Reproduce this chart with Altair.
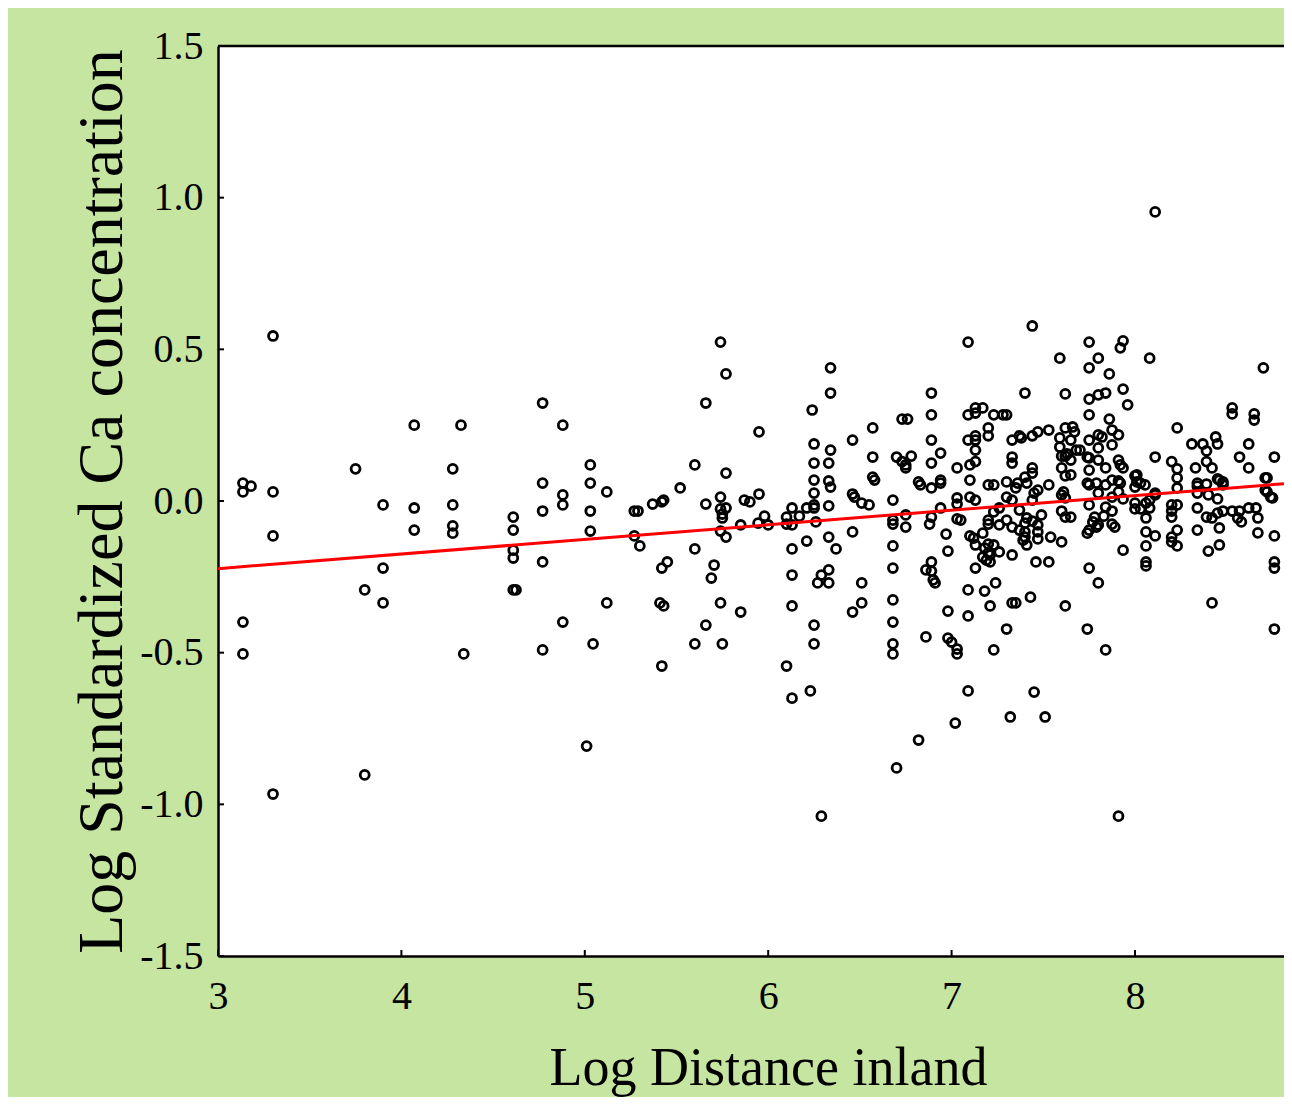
import altair as alt
import pandas as pd

# Log distance inland (one value per column of points)
dist_values = [
    3.136, 3.18, 3.30, 3.75, 3.80, 3.90, 4.07, 4.28, 4.325, 4.34,
    4.61, 4.625, 4.77, 4.88, 5.01, 5.03, 5.045, 5.12, 5.27, 5.29,
    5.30, 5.37, 5.41, 5.42, 5.43, 5.45, 5.52, 5.60, 5.66, 5.69,
    5.705, 5.74, 5.75, 5.77, 5.85, 5.87, 5.90, 5.945, 5.95, 5.98,
    6.00, 6.10, 6.13, 6.17, 6.21, 6.23, 6.24, 6.25, 6.26, 6.27,
    6.29, 6.33, 6.34, 6.37, 6.46, 6.47, 6.51, 6.55, 6.57, 6.58,
    6.68, 6.70, 6.73, 6.75, 6.76, 6.78, 6.82, 6.83, 6.86, 6.88,
    6.89, 6.90, 6.91, 6.94, 6.97, 6.98, 7.00, 7.02, 7.03, 7.05,
    7.09, 7.10, 7.12, 7.13, 7.17, 7.18, 7.19, 7.20, 7.21, 7.23,
    7.24, 7.26, 7.28, 7.30, 7.32, 7.33, 7.35, 7.36, 7.37, 7.38,
    7.39, 7.40, 7.41, 7.43, 7.44, 7.45, 7.46, 7.47, 7.49, 7.51,
    7.53, 7.54, 7.59, 7.60, 7.61, 7.62, 7.63, 7.65, 7.66, 7.67,
    7.68, 7.70, 7.74, 7.75, 7.77, 7.78, 7.79, 7.80, 7.82, 7.83,
    7.84, 7.86, 7.875, 7.89, 7.91, 7.92, 7.935, 7.96, 8.00, 8.01,
    8.03, 8.055, 8.06, 8.08, 8.11, 8.20, 8.23, 8.31, 8.33, 8.34,
    8.37, 8.39, 8.40, 8.42, 8.44, 8.45, 8.46, 8.48, 8.53, 8.56,
    8.57, 8.58, 8.62, 8.65, 8.66, 8.67, 8.70, 8.71, 8.72, 8.74,
    8.75, 8.76,
]

# Log standardized Ca concentration values in each column
ca_values = [
    [0.059, 0.030, -0.399, -0.504], [0.049], [0.544, 0.030, -0.115, -0.966], [0.106],
    [-0.293, -0.903], [-0.013, -0.221, -0.336], [0.25, -0.023, -0.096],
    [0.106, -0.013, -0.082, -0.106], [0.25], [-0.504],
    [-0.053, -0.096, -0.162, -0.188, -0.293], [-0.293], [0.323, 0.059, -0.033, -0.201, -0.491],
    [0.25, 0.020, -0.013, -0.399], [-0.808], [0.119, 0.059, -0.033, -0.099], [-0.471],
    [0.030, -0.336], [-0.033, -0.115], [-0.033],
    [-0.148], [-0.010], [-0.336], [-0.003, -0.221, -0.544], [0.003, -0.346], [-0.201],
    [0.043], [0.119, -0.158, -0.471], [0.323, -0.010, -0.409], [-0.254],
    [-0.211], [0.524, 0.013, -0.026, -0.099, -0.336], [-0.043, -0.056, -0.471],
    [0.419, 0.092, -0.023, -0.119], [-0.079, -0.366], [0.003], [-0.003], [-0.073],
    [0.228, 0.023], [-0.050],
    [-0.079], [-0.053, -0.076, -0.544], [-0.023, -0.079, -0.158, -0.244, -0.346, -0.650],
    [-0.050], [-0.023, -0.132], [-0.626], [0.300],
    [0.188, 0.125, 0.069, 0.026, -0.013, -0.023, -0.409, -0.471], [-0.069], [-0.270],
    [-0.244, -1.039], [0.125, 0.066, -0.016, -0.119, -0.227, -0.270],
    [0.439, 0.356, 0.168, 0.046], [-0.158], [0.201, 0.023, -0.102, -0.366], [0.013],
    [-0.007, -0.270, -0.336], [-0.013], [0.241, 0.145, 0.079], [0.069],
    [0.003, -0.063, -0.076, -0.148, -0.221, -0.326, -0.399, -0.471, -0.504],
    [0.145, -0.880], [0.270, 0.130], [0.119, 0.109, -0.046, -0.086], [0.270], [0.148],
    [0.063, -0.788], [0.053], [-0.227, -0.448], [-0.076],
    [0.356, 0.284, 0.201, 0.125, 0.043, -0.053, -0.201, -0.231], [-0.260], [-0.270],
    [0.158, 0.069, 0.059, -0.023], [-0.109], [-0.165, -0.363, -0.452], [-0.465], [-0.732],
    [0.109, 0.010, -0.010, -0.059, -0.488, -0.504], [-0.063],
    [0.524, 0.284, 0.201, -0.293, -0.379, -0.626], [0.119, 0.069, 0.013, -0.115], [-0.122],
    [0.307, 0.290, 0.215, 0.201, 0.168, 0.130, 0.003, -0.145, -0.221],
    [0.307, -0.106, -0.185], [-0.155, -0.297], [-0.195],
    [0.241, 0.215, 0.053, -0.063, -0.076, -0.142, -0.171], [-0.178, -0.201, -0.346],
    [0.284, 0.053, -0.036, -0.145, -0.491],
    [-0.270], [-0.023, -0.079, -0.168], [0.284], [0.284, 0.063, 0.013, -0.063, -0.422],
    [-0.712], [0.201, 0.145, 0.125, 0.003, -0.086, -0.178, -0.336], [0.043, -0.336],
    [0.059], [0.215, -0.030, -0.096], [0.208],
    [-0.129], [0.356, 0.079, -0.073, -0.102, -0.119], [0.059, -0.056, -0.145], [-0.317],
    [0.577, 0.215, 0.109, 0.092, 0.003, -0.066], [0.026, -0.630], [-0.201],
    [0.228, 0.036, -0.079, -0.102, -0.125], [-0.046], [-0.712],
    [0.234, 0.053, -0.201], [-0.119], [0.471, 0.208, 0.178], [0.148, 0.109, 0.020, -0.033, -0.135],
    [0.030], [0.353, 0.241, 0.148, 0.083, 0.010, -0.053, -0.346], [0.155],
    [0.201, 0.135, 0.086, -0.053], [0.244], [0.228],
    [0.168], [0.168], [0.145, 0.059, -0.106, -0.422],
    [0.524, 0.439, 0.336, 0.284, 0.201, 0.142, 0.102, 0.053, -0.013, -0.096, -0.221],
    [-0.069], [-0.053], [0.059, -0.086], [0.471, 0.350, 0.218, 0.175, 0.135, 0.026, -0.079, -0.270],
    [0.211], [-0.050],
    [0.356, 0.109, 0.053, -0.020, -0.491], [0.419, 0.270], [0.234, 0.185, 0.069, 0.013, -0.033, -0.076],
    [-0.086], [0.218, 0.135, 0.066, 0.030, -1.039], [0.505, 0.119, 0.059],
    [0.528, 0.369, 0.109, 0.007, -0.162], [0.317], [0.083, 0.046, -0.007, -0.026], [0.086, 0.063],
    [0.059, -0.026], [0.053], [-0.007, -0.056, -0.102, -0.148, -0.201, -0.214],
    [0.471, 0.003, -0.023], [0.953, 0.145, 0.026, 0.020, -0.115],
    [0.130, -0.013, -0.033, -0.053, -0.119, -0.135], [0.241, 0.106, 0.076, 0.043, -0.013, -0.096, -0.148],
    [0.188], [0.109], [0.059, 0.049, 0.026, -0.023, -0.096],
    [0.188], [0.165, 0.130, 0.056, -0.053], [0.020, -0.165], [0.109, -0.056, -0.336], [0.211],
    [0.188, 0.073, 0.007, -0.040], [0.069, -0.089, -0.145], [0.063, 0.053, -0.033],
    [0.307, 0.287, -0.033], [-0.056],
    [0.145, -0.033], [-0.069], [0.188, 0.109, -0.023], [0.287, 0.267], [-0.023], [-0.056, -0.105],
    [0.439], [0.076, 0.036], [0.076, 0.030], [0.013],
    [0.010], [0.145, -0.115, -0.201, -0.221, -0.422],
]

x_ticks = [3, 4, 5, 6, 7, 8]
y_ticks = [-1.5, -1.0, -0.5, 0.0, 0.5, 1.0, 1.5]
x_domain = [3.0, 8.8125]
fit_x = [3.0, 8.8125]
fit_y = [-0.223, 0.057]

rows = [{"dist": d, "ca": c} for d, cs in zip(dist_values, ca_values) for c in cs]
points_df = pd.DataFrame(rows)
fit_df = pd.DataFrame({"dist": fit_x, "ca": fit_y})
xt_df = pd.DataFrame({"dist": x_ticks})
yt_df = pd.DataFrame({"ca": y_ticks})
one_df = pd.DataFrame({"a": [0]})

W, H = 1066, 910
FONT = "Liberation Serif"

xscale = alt.Scale(domain=x_domain, nice=False, zero=False)
yscale = alt.Scale(domain=[-1.5, 1.5], nice=False, zero=False)

x_axis = alt.Axis(
    values=x_ticks, format="d", title="Log Distance inland",
    titleFont=FONT, titleFontSize=54, titleFontWeight="normal", titleColor="black",
    titleX=550, titleY=128, titleBaseline="alphabetic",
    labelFont=FONT, labelFontSize=40, labelColor="black", labelPadding=20,
    labelFlush=False, labelOverlap=False,
    ticks=False, tickSize=0, grid=False,
    domainColor="black", domainWidth=2.5,
)
y_axis = alt.Axis(
    values=y_ticks, title="Log Standardized Ca concentration",
    labelExpr="datum.value < 0 ? '-' + format(-datum.value, '.1f') : format(datum.value, '.1f')",
    titleFont=FONT, titleFontSize=64, titleFontWeight="normal", titleColor="black",
    titleX=-97, titleY=455, titleBaseline="alphabetic",
    labelFont=FONT, labelFontSize=40, labelColor="black", labelPadding=15,
    labelFlush=False, labelOverlap=False,
    ticks=False, tickSize=0, grid=False,
    domainColor="black", domainWidth=2.5,
)

X = alt.X("dist:Q", scale=xscale, axis=x_axis)
Y = alt.Y("ca:Q", scale=yscale, axis=y_axis)

points = alt.Chart(points_df).mark_point(
    shape="circle", filled=False, color="black", strokeWidth=2.8, size=80, opacity=1
).encode(x=X, y=Y)

fit = alt.Chart(fit_df).mark_line(color="#ff0000", strokeWidth=3).encode(x=X, y=Y)

xticks = alt.Chart(xt_df).mark_rule(color="black", strokeWidth=2).encode(
    x=X, y=alt.value(H), y2=alt.value(H - 6)
)
yticks = alt.Chart(yt_df).mark_rule(color="black", strokeWidth=2).encode(
    y=Y, x=alt.value(0), x2=alt.value(6)
)
top = alt.Chart(one_df).mark_rule(color="black", strokeWidth=2.5).encode(
    x=alt.value(0), x2=alt.value(W), y=alt.value(0)
)

chart = alt.layer(points, fit, xticks, yticks, top).properties(
    width=W, height=H,
    autosize=alt.AutoSizeParams(type="none"),
    padding={"left": 210, "top": 38, "right": 0, "bottom": 141},
    background="#c5e5a1",
).configure_view(stroke=None, fill="white")

chart.save("out.html", embed_options={"renderer": "svg", "actions": False})
